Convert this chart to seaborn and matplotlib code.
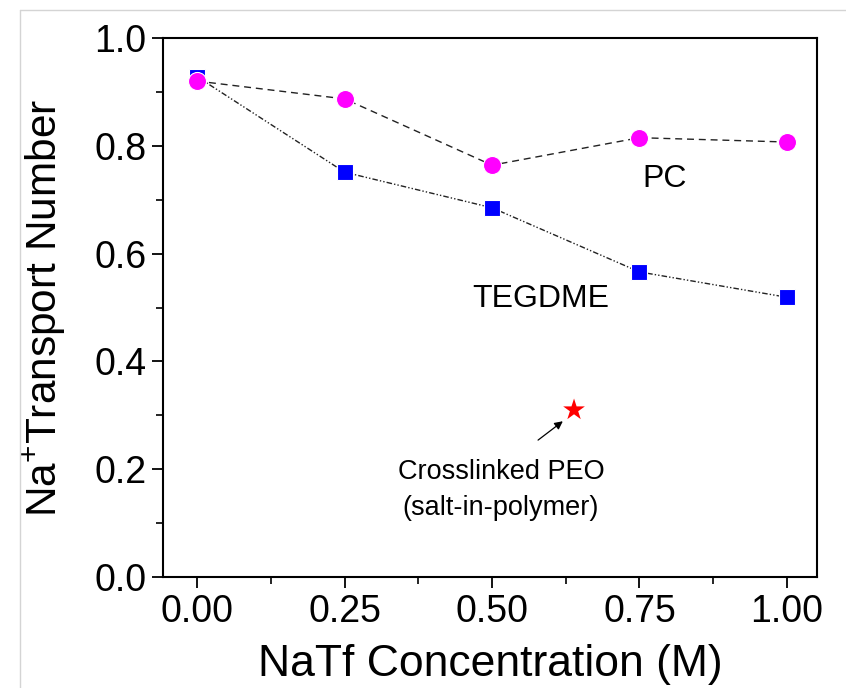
import matplotlib
matplotlib.use("Agg")
import matplotlib.pyplot as plt
from matplotlib.lines import Line2D
from matplotlib.ticker import MultipleLocator
import seaborn as sns
import pandas as pd

# Sodium transport number versus NaTf salt concentration
concentration = [0.00, 0.25, 0.50, 0.75, 1.00]
pc_values = [0.920, 0.887, 0.764, 0.815, 0.807]
tegdme_values = [0.928, 0.751, 0.685, 0.566, 0.519]
peo_concentration = [0.639]
peo_value = [0.310]
x_ticks = [0.00, 0.25, 0.50, 0.75, 1.00]
x_tick_labels = ["0.00", "0.25", "0.50", "0.75", "1.00"]
y_ticks = [0.0, 0.2, 0.4, 0.6, 0.8, 1.0]
y_tick_labels = ["0.0", "0.2", "0.4", "0.6", "0.8", "1.0"]

sns.set_theme(style="white")
plt.rcParams["font.family"] = ["Liberation Sans", "DejaVu Sans"]
plt.rcParams["mathtext.fontset"] = "custom"
plt.rcParams["mathtext.rm"] = "Liberation Sans"
plt.rcParams["mathtext.it"] = "Liberation Sans:italic"

df = pd.DataFrame({"conc": concentration, "PC": pc_values, "TEGDME": tegdme_values})

fig = plt.figure(figsize=(8.46, 6.88), dpi=100)
ax = fig.add_axes([0.1927, 0.1613, 0.7730, 0.7835])

sns.lineplot(data=df, x="conc", y="TEGDME", ax=ax, color="#222222", lw=1.0,
             linestyle=(0, (4, 1.5, 1, 1.5, 1, 1.5)), marker="s", markersize=11,
             markerfacecolor="#0000ff", markeredgecolor="white", markeredgewidth=0.8,
             zorder=3)
sns.lineplot(data=df, x="conc", y="PC", ax=ax, color="#222222", lw=1.0,
             linestyle=(0, (5, 3.5)), marker="o", markersize=13,
             markerfacecolor="#ff00ff", markeredgecolor="white", markeredgewidth=0.8,
             zorder=4)
sns.scatterplot(x=peo_concentration, y=peo_value, ax=ax, marker="*", s=270,
                color="#ff0000", edgecolor="none", zorder=5)

ax.annotate("", xy=(0.620, 0.289), xytext=(0.578, 0.254),
            arrowprops=dict(arrowstyle="-|>", color="black", lw=0.9,
                            mutation_scale=12, shrinkA=0, shrinkB=0))
ax.text(0.515, 0.162, "Crosslinked PEO\n(salt-in-polymer)", ha="center", va="center",
        fontsize=19.5, linespacing=1.5, color="black")
ax.text(0.793, 0.738, "PC", ha="center", va="center", fontsize=23, color="black")
ax.text(0.583, 0.516, "TEGDME", ha="center", va="center", fontsize=23, color="black")

ax.set_xlim(-0.058, 1.051)
ax.set_ylim(0.0, 1.0)
ax.set_xticks(x_ticks)
ax.set_xticklabels(x_tick_labels)
ax.set_yticks(y_ticks)
ax.set_yticklabels(y_tick_labels)
ax.xaxis.set_minor_locator(MultipleLocator(0.125))
ax.yaxis.set_minor_locator(MultipleLocator(0.1))
ax.tick_params(axis="both", which="major", direction="out", length=8, width=1.3,
               labelsize=27, color="black", labelcolor="black", pad=4,
               bottom=True, left=True, top=False, right=False)
ax.tick_params(axis="both", which="minor", direction="out", length=5, width=1.2,
               color="black", bottom=True, left=True, top=False, right=False)

ax.set_xlabel("NaTf Concentration (M)", fontsize=32, color="black", labelpad=10)
ax.set_ylabel("Na$^{+}$Transport Number", fontsize=30.5, color="black", labelpad=19)

for spine in ax.spines.values():
    spine.set_color("black")
    spine.set_linewidth(1.5)

# faint frame lines along the top and left of the canvas
fig.add_artist(Line2D([0.024, 1.0], [0.985, 0.985], color="#d4d4d4", lw=1.0,
                      transform=fig.transFigure))
fig.add_artist(Line2D([0.024, 0.024], [0.0, 0.985], color="#d4d4d4", lw=1.0,
                      transform=fig.transFigure))

fig.savefig("out.png", dpi=100, facecolor="white")
